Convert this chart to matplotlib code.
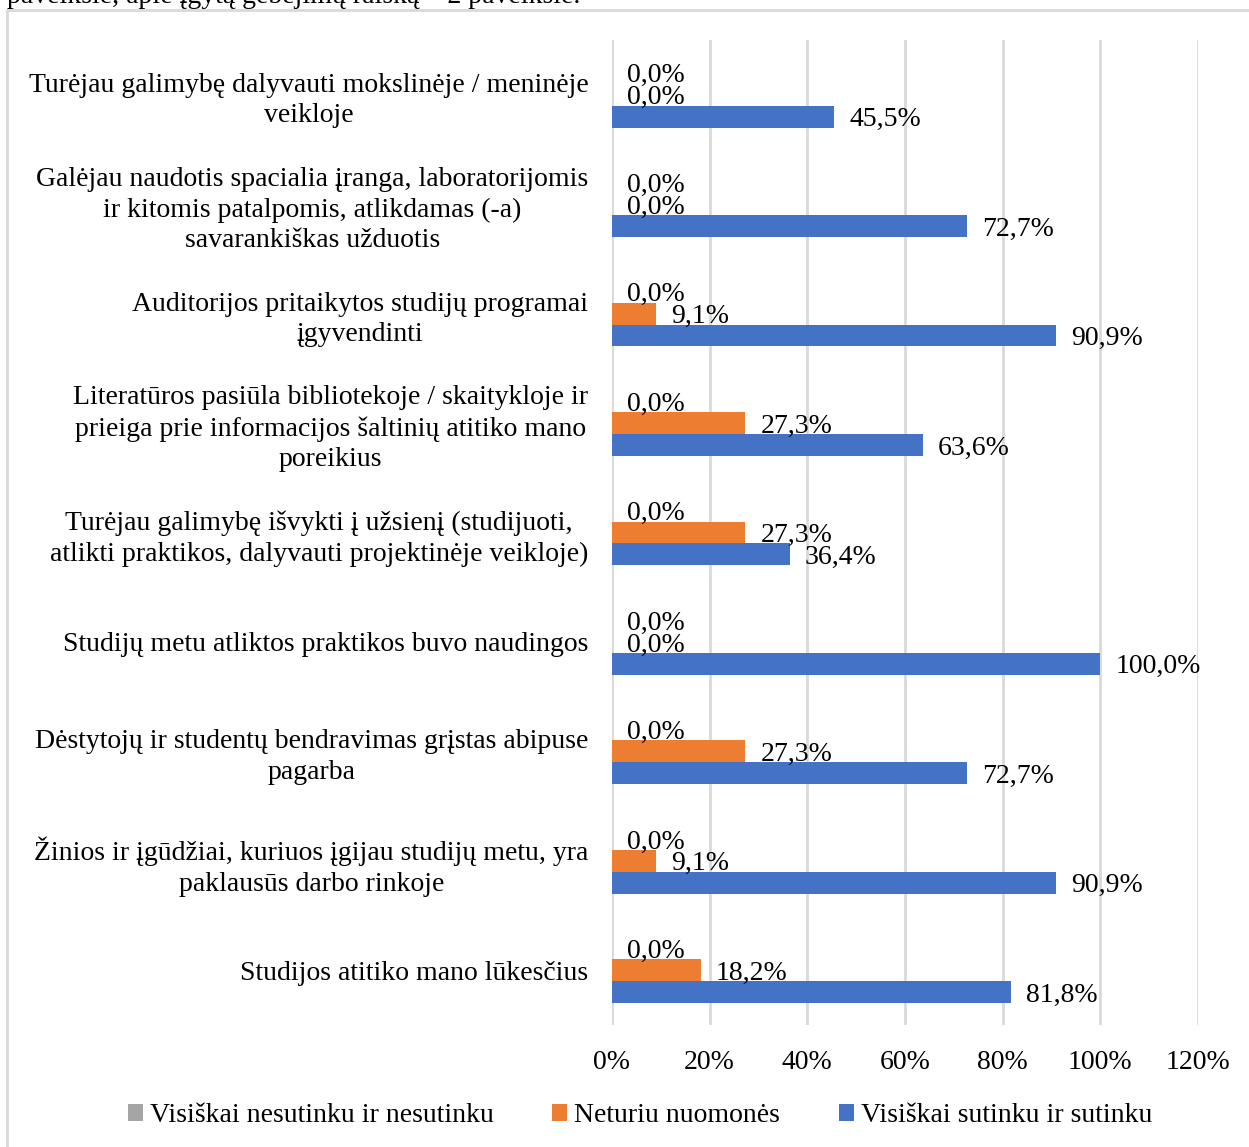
import numpy as np
import matplotlib.pyplot as plt
import matplotlib.transforms as mtransforms
from matplotlib.patches import Rectangle

plt.rcParams['font.family'] = ['Liberation Serif', 'DejaVu Serif']

categories = [
    'Turėjau galimybę dalyvauti mokslinėje / meninėje\nveikloje',
    'Galėjau naudotis spacialia įranga, laboratorijomis\nir kitomis patalpomis, atlikdamas (-a)\nsavarankiškas užduotis',
    'Auditorijos pritaikytos studijų programai\nįgyvendinti',
    'Literatūros pasiūla bibliotekoje / skaitykloje ir\nprieiga prie informacijos šaltinių atitiko mano\nporeikius',
    'Turėjau galimybę išvykti į užsienį (studijuoti,\natlikti praktikos, dalyvauti projektinėje veikloje)',
    'Studijų metu atliktos praktikos buvo naudingos',
    'Dėstytojų ir studentų bendravimas grįstas abipuse\npagarba',
    'Žinios ir įgūdžiai, kuriuos įgijau studijų metu, yra\npaklausūs darbo rinkoje',
    'Studijos atitiko mano lūkesčius',
]
disagree = [0.0, 0.0, 0.0, 0.0, 0.0, 0.0, 0.0, 0.0, 0.0]
neutral = [0.0, 0.0, 9.1, 27.3, 27.3, 0.0, 27.3, 9.1, 18.2]
agree = [45.5, 72.7, 90.9, 63.6, 36.4, 100.0, 72.7, 90.9, 81.8]
series_names = ['Visiškai nesutinku ir nesutinku', 'Neturiu nuomonės',
                'Visiškai sutinku ir sutinku']
colors = ['#A5A5A5', '#ED7D31', '#4472C4']
fs = 20

fig = plt.figure(figsize=(12.49, 11.47), dpi=100)
ax = fig.add_axes([612 / 1249, 1 - 1025 / 1147, 586 / 1249, 985 / 1147])

y = np.arange(len(categories))
h = 0.2
all_series = [disagree, neutral, agree]
for k, vals in enumerate(all_series):
    vals = np.array(vals) / 100
    pos = y + (k - 1) * h
    ax.barh(pos, vals, height=h, color=colors[k], label=series_names[k], zorder=3)
    for p, v in zip(pos, vals):
        ax.annotate(f'{v * 100:.1f}%'.replace('.', ','), (v, p),
                    xytext=(15, -3), textcoords='offset pixels',
                    va='center', ha='left', fontsize=fs, zorder=4)

ax.set_xlim(0, 1.2)
ax.set_ylim(len(categories) - 0.5, -0.5)
ax.set_xticks(np.arange(0, 1.21, 0.2))
ax.set_xticklabels([f'{int(t)}%' for t in np.arange(0, 121, 20)], fontsize=fs)
ax.set_yticks(y)
ax.set_yticklabels(categories, fontsize=fs, linespacing=1.3)
shift = mtransforms.ScaledTranslation(0, 4 / 100, fig.dpi_scale_trans)
for lab in ax.get_yticklabels():
    lab.set_multialignment('center')
    lab.set_transform(lab.get_transform() + shift)
ax.tick_params(length=0, axis='y', pad=17)
ax.tick_params(length=0, axis='x', pad=18)
ax.grid(axis='x', color='#D9D9D9', linewidth=2, zorder=0)
for s in ax.spines.values():
    s.set_visible(False)

ax.legend(loc='center', bbox_to_anchor=(640 / 1249, 1 - 1116 / 1147),
          bbox_transform=fig.transFigure, ncol=3, frameon=False, fontsize=fs,
          handlelength=0.55, handleheight=0.55, handletextpad=0.25,
          columnspacing=2.1)

# chart border and cut-off caption above
fig.patches.append(Rectangle((7 / 1249, -0.01), 1.01, 1 - 10 / 1147 + 0.01,
                             transform=fig.transFigure, fill=False,
                             edgecolor='#D9D9D9', linewidth=2))
fig.text(7 / 1249, 1 - 3 / 1147, 'paveikslė, apie įgytą gebėjimų raišką – 2 paveikslė.',
         fontsize=fs, va='baseline', ha='left')

fig.savefig('out.png', dpi=100)
